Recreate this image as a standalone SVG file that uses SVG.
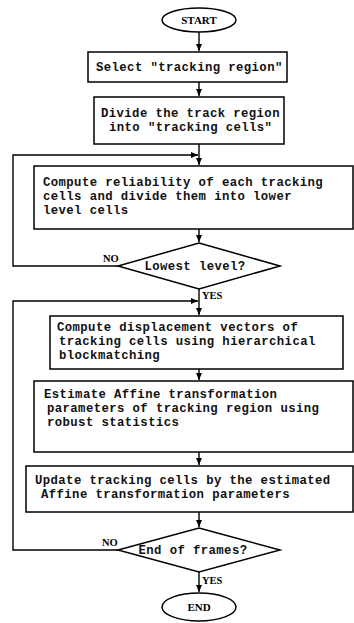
<svg xmlns="http://www.w3.org/2000/svg" width="354" height="623" viewBox="0 0 354 623">
<defs>
<style>
.box{fill:#fff;stroke:#000;stroke-width:1.5}
.ln{fill:none;stroke:#000;stroke-width:1.4}
.t{font-family:"Liberation Mono","Courier New",monospace;font-size:12.3px;letter-spacing:0.4px;font-weight:bold;fill:#111}
.lb{font-family:"Liberation Serif","Times New Roman",serif;font-weight:bold;font-size:10.5px;fill:#000}
.term{font-family:"Liberation Serif","Times New Roman",serif;font-weight:bold;font-size:11px;fill:#000}
</style>
<marker id="ah" markerWidth="8" markerHeight="8" refX="7" refY="4" orient="auto" markerUnits="userSpaceOnUse">
<path d="M0,1 L7,4 L0,7 Z" fill="#000"/>
</marker>
</defs>
<rect width="354" height="623" fill="#fff"/>
<g id="connectors">
<line class="ln" x1="199" y1="32" x2="199" y2="51" marker-end="url(#ah)"/>
<line class="ln" x1="199" y1="82" x2="199" y2="96" marker-end="url(#ah)"/>
<line class="ln" x1="199" y1="144" x2="199" y2="165" marker-end="url(#ah)"/>
<line class="ln" x1="199" y1="229" x2="199" y2="242" marker-end="url(#ah)"/>
<polyline class="ln" points="118,266 13,266 13,155 198,155" marker-end="url(#ah)"/>
<line class="ln" x1="199" y1="289" x2="199" y2="315" marker-end="url(#ah)"/>
<polyline class="ln" points="118,550 13,550 13,301 198,301" marker-end="url(#ah)"/>
<line class="ln" x1="199" y1="369" x2="199" y2="380" marker-end="url(#ah)"/>
<line class="ln" x1="199" y1="452" x2="199" y2="465" marker-end="url(#ah)"/>
<line class="ln" x1="199" y1="512" x2="199" y2="527" marker-end="url(#ah)"/>
<line class="ln" x1="199" y1="572" x2="199" y2="592" marker-end="url(#ah)"/>
<text class="lb" x="103" y="262">NO</text>
<text class="lb" x="202" y="299">YES</text>
<text class="lb" x="102" y="546">NO</text>
<text class="lb" x="202" y="584">YES</text>
</g>
<g id="start">
<ellipse class="box" cx="199" cy="20" rx="37" ry="12"/>
<text class="term" x="199" y="24" text-anchor="middle">START</text>
</g>
<g id="select">
<rect class="box" x="88" y="52" width="199" height="30"/>
<text class="t" x="96" y="71">Select "tracking region"</text>
</g>
<g id="divide">
<rect class="box" x="94" y="97" width="190" height="47"/>
<text class="t" x="101" y="117">Divide the track region</text>
<text class="t" x="109" y="131">into "tracking cells"</text>
</g>
<g id="reliability">
<rect class="box" x="34" y="166" width="319" height="63"/>
<text class="t" x="43" y="186">Compute reliability of each tracking</text>
<text class="t" x="43" y="200">cells and divide them into lower</text>
<text class="t" x="43" y="214">level cells</text>
</g>
<g id="lowest">
<polygon class="box" points="199,243 280,266 199,289 118,266"/>
<text class="t" x="195" y="270" text-anchor="middle">Lowest level?</text>
</g>
<g id="displacement">
<rect class="box" x="50" y="316" width="293" height="53"/>
<text class="t" x="57" y="331">Compute displacement vectors of</text>
<text class="t" x="59" y="345">tracking cells using hierarchical</text>
<text class="t" x="59" y="359">blockmatching</text>
</g>
<g id="estimate">
<rect class="box" x="34" y="381" width="319" height="71"/>
<text class="t" x="44" y="398">Estimate Affine transformation</text>
<text class="t" x="47" y="412">parameters of tracking region using</text>
<text class="t" x="47" y="426">robust statistics</text>
</g>
<g id="update">
<rect class="box" x="26" y="466" width="327" height="46"/>
<text class="t" x="35" y="484">Update tracking cells by the estimated</text>
<text class="t" x="41" y="498">Affine transformation parameters</text>
</g>
<g id="endframes">
<polygon class="box" points="199,528 280,550 199,572 118,550"/>
<text class="t" x="193" y="554" text-anchor="middle">End of frames?</text>
</g>
<g id="end">
<ellipse class="box" cx="199" cy="607" rx="37" ry="14"/>
<text class="term" x="199" y="611" text-anchor="middle">END</text>
</g>
</svg>
